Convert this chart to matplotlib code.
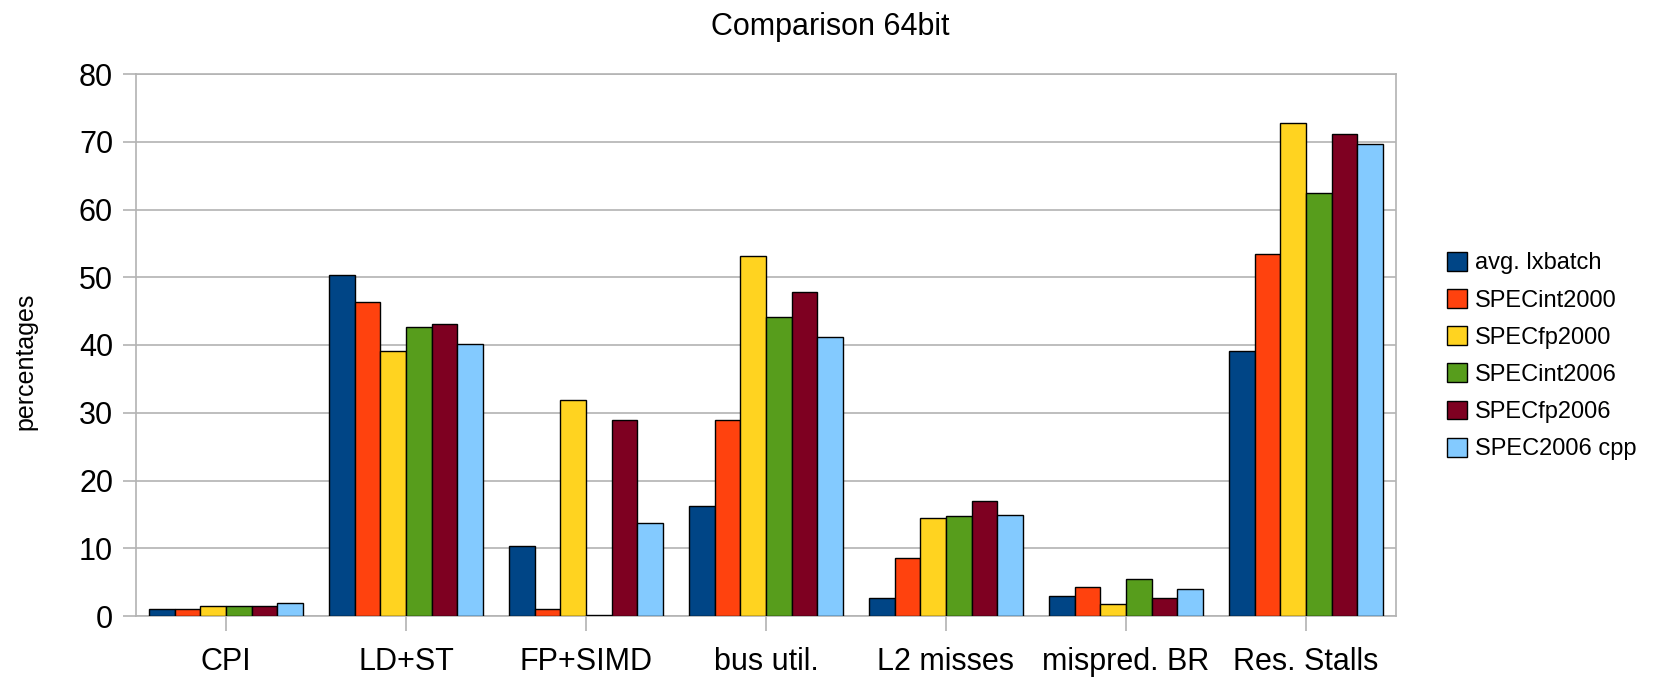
import matplotlib.pyplot as plt
import numpy as np

plt.rcParams['font.family'] = ['Liberation Sans', 'DejaVu Sans']

# Data
categories = ["CPI", "LD+ST", "FP+SIMD", "bus util.", "L2 misses", "mispred. BR", "Res. Stalls"]
series = ["avg. lxbatch", "SPECint2000", "SPECfp2000", "SPECint2006", "SPECfp2006", "SPEC2006 cpp"]

avg_lxbatch = [1.1, 50.3, 10.4, 16.3, 2.6, 2.9, 39.1]
specint2000 = [1.1, 46.3, 1.1, 29.0, 8.6, 4.3, 53.5]
specfp2000 = [1.5, 39.1, 31.9, 53.2, 14.5, 1.8, 72.7]
specint2006 = [1.5, 42.6, 0.1, 44.1, 14.8, 5.4, 62.5]
specfp2006 = [1.5, 43.1, 29.0, 47.8, 17.0, 2.6, 71.2]
spec2006_cpp = [1.9, 40.2, 13.8, 41.2, 14.9, 4.0, 69.7]

values = [avg_lxbatch, specint2000, specfp2000, specint2006, specfp2006, spec2006_cpp]
colors = ["#004586", "#ff420e", "#ffd320", "#579d1c", "#7e0021", "#83caff"]

fig = plt.figure(figsize=(16.63, 6.77), dpi=100)
ax = fig.add_axes([136 / 1663, 1 - 616 / 677, 1260 / 1663, (616 - 74) / 677])

x = np.arange(len(categories))
width = 0.142
for i, (name, vals, col) in enumerate(zip(series, values, colors)):
    offset = (i - 2.5) * width
    ax.bar(x + offset, vals, width, color=col, edgecolor="black", linewidth=1.0,
           label=name, zorder=3)

ax.set_xlim(-0.5, len(categories) - 0.5)
ax.set_ylim(0, 80)
ax.set_yticks(range(0, 81, 10))
ax.set_xticks(x)
ax.set_xticklabels(categories)
ax.tick_params(axis="both", labelsize=22, color="#b3b3b3", width=1.2)
ax.tick_params(axis="y", length=9.5, pad=7)
ax.tick_params(axis="x", length=10.8, pad=11.5)
ax.yaxis.grid(True, color="#b3b3b3", linewidth=1.2, zorder=0)
for s in ax.spines.values():
    s.set_color("#b3b3b3")
    s.set_linewidth(1.2)

ax.set_ylabel("percentages", fontsize=18)
ax.yaxis.set_label_coords(-0.0786, 0.469)
fig.suptitle("Comparison 64bit", fontsize=22, x=0.499, y=0.982)

ax.legend(loc="center left", bbox_to_anchor=(1447 / 1663, 0.474), bbox_transform=fig.transFigure,
          frameon=False, fontsize=17, handlelength=0.85, handleheight=0.85,
          handletextpad=0.34, labelspacing=0.62, borderpad=0, borderaxespad=0)

fig.savefig("out.png", dpi=100)
